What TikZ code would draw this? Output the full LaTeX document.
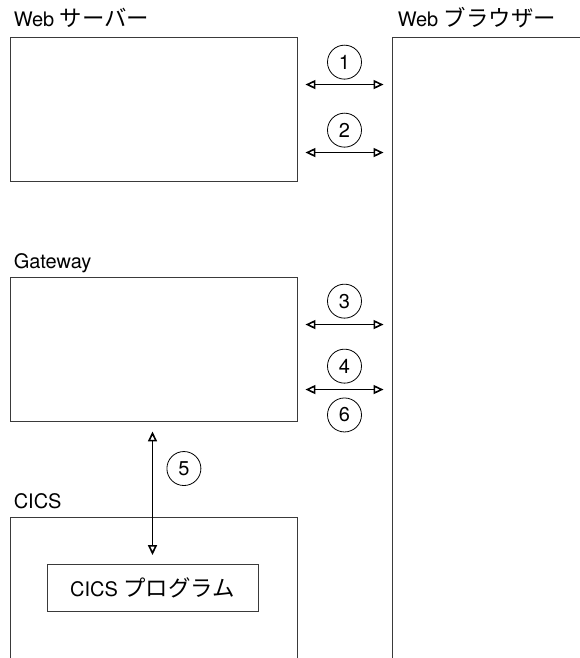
\documentclass[tikz,border=0pt]{standalone}
\usepackage{fontspec}
\setmainfont{TeX Gyre Heros}
\newfontfamily\jpfont{Noto Sans CJK JP}[Scale=1.12]
\usetikzlibrary{arrows.meta,positioning,calc}
\definecolor{boxgray}{HTML}{3A3A3A}

\begin{document}
\begin{tikzpicture}[x=1pt, y=-1pt,
  font=\fontsize{20}{24}\selectfont,
  panel/.style={rectangle, draw=boxgray, line width=0.9pt, inner sep=0pt},
  label/.style={anchor=base west, inner sep=0pt},
  num/.style={circle, draw=black, line width=0.8pt, minimum size=34pt, inner sep=0pt},
  arr/.style={{Triangle[open,length=10pt,width=9pt]}-{Triangle[open,length=10pt,width=9pt]}, line width=1.6pt}
]
  \useasboundingbox (0,0) rectangle (580,658);
  \clip (0,0) rectangle (580,658);
  % boxes
  \node[panel, minimum width=287pt, minimum height=144pt] (ws) at (153.5,109) {};
  \node[panel, minimum width=287pt, minimum height=144pt] (gw) at (153.5,349) {};
  \node[panel, minimum width=287pt, minimum height=183pt] (cics) at (153.5,608.5) {};
  \node[panel, minimum width=211pt, minimum height=47pt] (prog) at (152.5,588) {CICS {\jpfont プログラム}};
  \node[panel, minimum width=228pt, minimum height=663pt] (wb) at (506,368.5) {};
  % titles
  \node[label] (wslabel) at ([xshift=4pt,yshift=10pt]ws.north west) {Web {\jpfont サーバー}};
  \node[label] (wblabel) at ([xshift=6pt,yshift=10pt]wb.north west) {Web {\jpfont ブラウザー}};
  \node[label] (gwlabel) at ([xshift=4pt,yshift=8pt]gw.north west) {Gateway};
  \node[label] (cicslabel) at ([xshift=4pt,yshift=8pt]cics.north west) {CICS};
  % flows
  \draw[arr] ([xshift=8pt,yshift=-48pt]ws.north east) -- ([xshift=-8pt,yshift=-48pt]wb.north west)
    node[num, midway, above=5pt] (n1) {1};
  \draw[arr] ([xshift=8pt,yshift=-116pt]ws.north east) -- ([xshift=-8pt,yshift=-116pt]wb.north west)
    node[num, midway, above=5pt] (n2) {2};
  \draw[arr] ([xshift=8pt,yshift=-48pt]gw.north east) -- ([xshift=-8pt,yshift=-288pt]wb.north west)
    node[num, midway, above=6pt] (n3) {3};
  \draw[arr] ([xshift=8pt,yshift=-113pt]gw.north east) -- ([xshift=-8pt,yshift=-353pt]wb.north west)
    node[num, midway, above=6pt] (n4) {4}
    node[num, midway, below=8pt] (n6) {6};
  \draw[arr] ([yshift=-10pt]gw.south -| prog.north) -- ([yshift=9pt]prog.north)
    node[num, pos=0.3, right=14pt] (n5) {5};
\end{tikzpicture}
\end{document}
